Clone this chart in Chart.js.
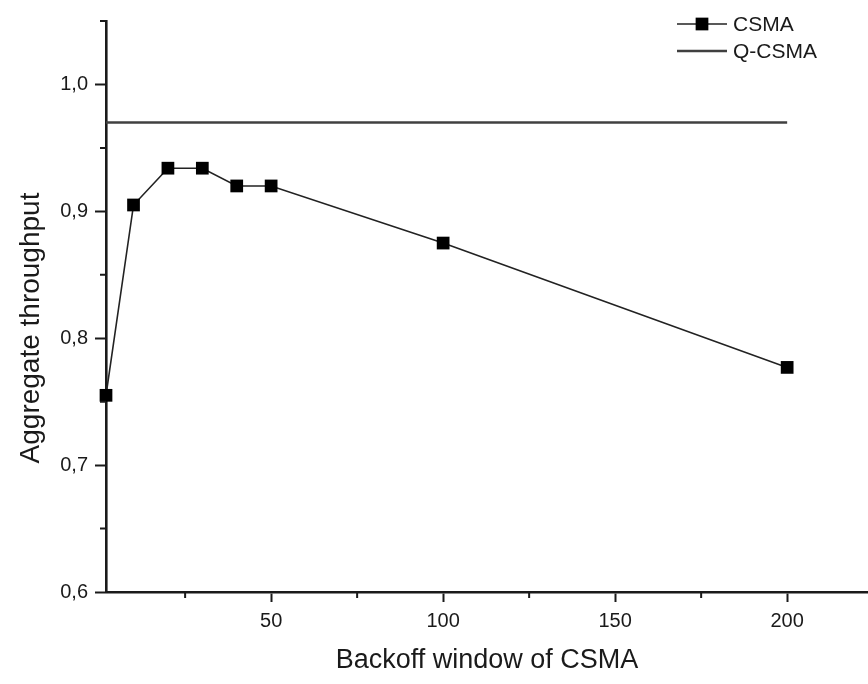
<!DOCTYPE html>
<html>
<head>
<meta charset="utf-8">
<script src="https://cdn.jsdelivr.net/npm/chart.js@4/dist/chart.umd.min.js"></script>
<style>
  html, body { margin: 0; padding: 0; background: #ffffff; }
  #wrap { width: 868px; height: 684px; }
</style>
</head>
<body>
<div id="wrap"><canvas id="c" width="868" height="684"></canvas></div>
<script>
// Backoff window sizes and measured aggregate throughput
const backoffWindows = [2, 10, 20, 30, 40, 50, 100, 200];
const csmaThroughput = [0.755, 0.905, 0.934, 0.934, 0.920, 0.920, 0.875, 0.777];
const qcsmaWindows = [2, 200];
const qcsmaThroughput = [0.97, 0.97];

// Axis ticks
const xMajorTicks = [50, 100, 150, 200];
const xMinorTicks = [25, 75, 125, 175];
const yMajorTicks = [0.6, 0.7, 0.8, 0.9, 1.0];
const yMinorTicks = [0.65, 0.75, 0.85, 0.95, 1.05];

const yAxisTitle = 'Aggregate throughput';

const FONT = "'Liberation Sans', Arial, Helvetica, sans-serif";
const INK = '#1a1a1a';

// Short minor tick marks pointing outward from both axes
const minorTicks = {
  id: 'minorTicks',
  afterDraw(chart) {
    const { ctx, scales: { x, y }, chartArea } = chart;
    ctx.save();
    ctx.strokeStyle = INK;
    ctx.lineWidth = 2;
    ctx.beginPath();
    xMinorTicks.forEach(v => {
      const px = x.getPixelForValue(v);
      if (px < chartArea.left || px > chartArea.right) return;
      ctx.moveTo(px, chartArea.bottom);
      ctx.lineTo(px, chartArea.bottom + 6);
    });
    yMinorTicks.forEach(v => {
      const py = y.getPixelForValue(v);
      ctx.moveTo(chartArea.left, py);
      ctx.lineTo(chartArea.left - 6, py);
    });
    ctx.stroke();
    ctx.restore();
  }
};

// Vertical axis title, set a little below the middle of the axis
const sideTitle = {
  id: 'sideTitle',
  afterDraw(chart) {
    const { ctx } = chart;
    ctx.save();
    ctx.translate(31, 328);
    ctx.rotate(-Math.PI / 2);
    ctx.fillStyle = INK;
    ctx.font = '28px ' + FONT;
    ctx.textAlign = 'center';
    ctx.textBaseline = 'middle';
    ctx.fillText(yAxisTitle, 0, 0);
    ctx.restore();
  }
};

// Legend in the upper right corner: line sample (with marker) and label
const cornerLegend = {
  id: 'cornerLegend',
  afterDraw(chart) {
    const { ctx } = chart;
    const x0 = 677;
    const x1 = x0 + 50;
    const rows = [24, 51];
    ctx.save();
    chart.data.datasets.forEach((ds, i) => {
      const yy = rows[i];
      ctx.strokeStyle = ds.borderColor;
      ctx.lineWidth = ds.borderWidth;
      ctx.beginPath();
      ctx.moveTo(x0, yy);
      ctx.lineTo(x1, yy);
      ctx.stroke();
      if (ds.pointRadius > 0) {
        const s = ds.pointRadius * Math.SQRT1_2;
        ctx.fillStyle = ds.pointBackgroundColor;
        ctx.fillRect((x0 + x1) / 2 - s, yy - s, 2 * s, 2 * s);
      }
      ctx.fillStyle = INK;
      ctx.font = '21px ' + FONT;
      ctx.textBaseline = 'middle';
      ctx.textAlign = 'left';
      ctx.fillText(ds.label, x1 + 6, yy + 1);
    });
    ctx.restore();
  }
};

new Chart(document.getElementById('c'), {
  type: 'line',
  data: {
    datasets: [
      {
        label: 'CSMA',
        data: backoffWindows.map((w, i) => ({ x: w, y: csmaThroughput[i] })),
        borderColor: '#222222',
        borderWidth: 1.6,
        pointStyle: 'rect',
        pointRadius: 9,
        pointBackgroundColor: '#000000',
        pointBorderColor: '#000000',
        pointBorderWidth: 0,
        tension: 0,
        clip: false
      },
      {
        label: 'Q-CSMA',
        data: qcsmaWindows.map((w, i) => ({ x: w, y: qcsmaThroughput[i] })),
        borderColor: '#404040',
        borderWidth: 2.4,
        pointRadius: 0,
        pointBackgroundColor: '#404040',
        tension: 0,
        clip: false
      }
    ]
  },
  options: {
    responsive: false,
    animation: false,
    layout: { autoPadding: false, padding: { top: 21, right: 0, left: 0, bottom: 0 } },
    plugins: {
      legend: { display: false },
      tooltip: { enabled: false }
    },
    scales: {
      x: {
        type: 'linear',
        min: 2,
        max: 223.5,
        afterBuildTicks(scale) { scale.ticks = xMajorTicks.map(v => ({ value: v })); },
        afterFit(scale) {
          scale.height = 92;
          scale.paddingLeft = 0;
          scale.paddingRight = 0;
        },
        ticks: {
          autoSkip: false,
          padding: 7,
          color: INK,
          font: { family: FONT, size: 20 },
          callback: v => String(v)
        },
        grid: { drawOnChartArea: false, drawTicks: true, tickLength: 10, tickWidth: 2, tickColor: INK },
        border: { display: true, color: INK, width: 2.6 },
        title: {
          display: true,
          text: 'Backoff window of CSMA',
          color: INK,
          font: { family: FONT, size: 27 },
          padding: { top: 0, bottom: 7 }
        }
      },
      y: {
        type: 'linear',
        min: 0.6,
        max: 1.05,
        afterBuildTicks(scale) { scale.ticks = yMajorTicks.map(v => ({ value: v })); },
        afterFit(scale) {
          scale.width = 106;
          scale.paddingTop = 0;
          scale.paddingBottom = 0;
        },
        ticks: {
          autoSkip: false,
          padding: 7,
          color: INK,
          font: { family: FONT, size: 20 },
          callback: v => v.toFixed(1).replace('.', ',')
        },
        grid: { drawOnChartArea: false, drawTicks: true, tickLength: 11, tickWidth: 2, tickColor: INK },
        border: { display: true, color: INK, width: 2.6 },
        title: { display: false }
      }
    }
  },
  plugins: [minorTicks, sideTitle, cornerLegend]
});
</script>
</body>
</html>
